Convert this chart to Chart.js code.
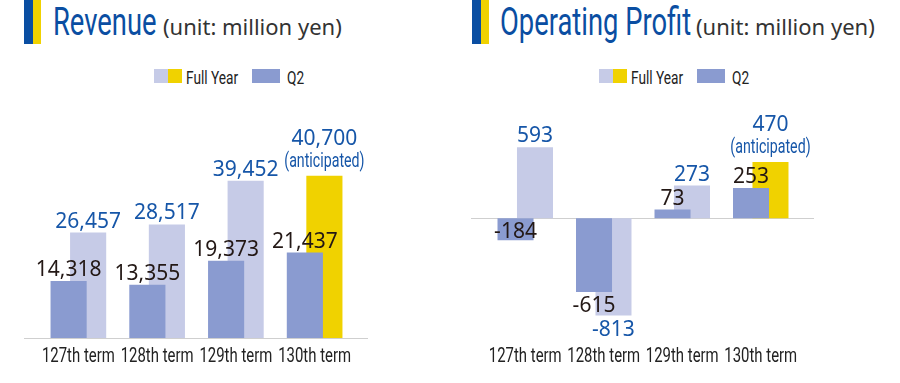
<!DOCTYPE html>
<html lang="en">
<head>
<meta charset="UTF-8" />
<title>Revenue / Operating Profit</title>
<script src="https://cdn.jsdelivr.net/npm/chart.js@4"></script>
<style>
  html, body { margin: 0; padding: 0; background: #fff; }
  body { width: 900px; height: 383px; position: relative; overflow: hidden; font-family: Roboto, sans-serif; }
  .mark { position: absolute; top: 0; width: 17px; height: 44px;
          background: linear-gradient(to right, #0a4ea2 0 9px, #f0d200 9px 17px); }
  /* no condensed face is installed, so squeeze Roboto */
  .narrow { position: absolute; white-space: nowrap; transform: scaleX(0.72); transform-origin: 0 0; }
  .title { top: 0; color: #0a4ea2; font-size: 38px; line-height: 44px; font-weight: 400; }
  .unit { position: absolute; top: 11px; white-space: nowrap; font-family: "Noto Sans", sans-serif;
          font-size: 22px; color: #333; }
  .sw { position: absolute; top: 69px; width: 28px; height: 14px; }
  .lt { top: 68px; font-size: 19px; line-height: 19px; color: #222; }
  canvas { position: absolute; top: 44px; }
</style>
</head>
<body>
  <div class="mark" style="left:24px"></div>
  <div class="narrow title" style="left:53px">Revenue</div>
  <div class="unit" style="left:163px">(unit: million yen)</div>
  <div class="mark" style="left:472px"></div>
  <div class="narrow title" style="left:500px">Operating Profit</div>
  <div class="unit" style="left:696px">(unit: million yen)</div>

  <div id="revenueLegend"></div>
  <div id="profitLegend"></div>

  <canvas id="revenueChart" width="450" height="339" style="left:0"></canvas>
  <canvas id="profitChart" width="450" height="339" style="left:450px"></canvas>

<script>
  const terms = ["127th term", "128th term", "129th term", "130th term"];
  const revenueQ2 = [14318, 13355, 19373, 21437];
  const revenueFullYear = [26457, 28517, 39452, 40700];
  const profitQ2 = [-184, -615, 73, 253];
  const profitFullYear = [593, -813, 273, 470];
  const anticipated = [false, false, false, true];
  const anticipatedNote = "(anticipated)";

  const Q2_COLOR = "#8a9bd0";
  const FULL_COLOR = "#c6cbe7";
  const FORECAST_COLOR = "#f0d200";
  const SQUEEZE = 0.71;

  function legend(id, left) {
    const el = document.getElementById(id);
    el.innerHTML =
      '<span class="sw" style="left:' + left + 'px;background:linear-gradient(to right,' +
        FULL_COLOR + ' 50%,' + FORECAST_COLOR + ' 50%)"></span>' +
      '<span class="narrow lt" style="left:' + (left + 32) + 'px">Full Year</span>' +
      '<span class="sw" style="left:' + (left + 98) + 'px;background:' + Q2_COLOR + '"></span>' +
      '<span class="narrow lt" style="left:' + (left + 133) + 'px">Q2</span>';
  }

  // squeezed canvas text
  function narrowText(ctx, text, x, y, size, color) {
    ctx.save();
    ctx.font = size + "px Roboto";
    ctx.fillStyle = color;
    ctx.textAlign = "center";
    ctx.textBaseline = "alphabetic";
    ctx.translate(x, y);
    ctx.scale(SQUEEZE, 1);
    ctx.fillText(text, 0, 0);
    ctx.restore();
  }

  const zeroLine = {
    id: "zeroLine",
    beforeDatasetsDraw(chart) {
      const { ctx, chartArea, scales } = chart;
      const y = Math.round(scales.y.getPixelForValue(0)) + 0.5;
      ctx.save();
      ctx.strokeStyle = "#cfcfcf";
      ctx.lineWidth = 1;
      ctx.beginPath();
      ctx.moveTo(chartArea.left - 15, y);
      ctx.lineTo(chartArea.right + 14, y);
      ctx.stroke();
      ctx.restore();
    }
  };

  const termLabels = {
    id: "termLabels",
    afterDraw(chart) {
      const x = chart.scales.x;
      chart.data.labels.forEach((lab, i) => {
        narrowText(chart.ctx, lab, x.getPixelForTick(i), chart.chartArea.bottom + 24, 21, "#222");
      });
    }
  };

  const valueLabels = {
    id: "valueLabels",
    afterDatasetsDraw(chart, args, opts) {
      const ctx = chart.ctx;
      const inside = opts.inside || [];
      chart.data.datasets.forEach((ds, di) => {
        chart.getDatasetMeta(di).data.forEach((bar, i) => {
          const v = ds.data[i];
          const text = v.toLocaleString("en-US");
          ctx.save();
          ctx.textAlign = "center";
          ctx.textBaseline = "alphabetic";
          ctx.fillStyle = ds.labelColor;
          ctx.font = '21px "Noto Sans"';
          if (v >= 0) {
            if (ds.notes && ds.notes[i]) {
              const noteY = bar.y - 9;
              ctx.fillText(text, bar.x, noteY - 22);
              narrowText(ctx, ds.notes[i], bar.x, noteY, 20, ds.labelColor);
            } else {
              ctx.fillText(text, bar.x, bar.y - 5);
            }
          } else {
            const isInside = inside.some(p => p[0] === di && p[1] === i);
            ctx.fillText(text, bar.x, (isInside ? bar.base : bar.y) + 20);
          }
          ctx.restore();
        });
      });
    }
  };

  function makeChart(id, q2, full, yMin, yMax, padLeft, padRight, inside) {
    new Chart(document.getElementById(id), {
      type: "bar",
      data: {
        labels: terms,
        datasets: [
          {
            label: "Q2",
            data: q2,
            backgroundColor: Q2_COLOR,
            labelColor: "#231815"
          },
          {
            label: "Full Year",
            data: full,
            backgroundColor: anticipated.map(a => a ? FORECAST_COLOR : FULL_COLOR),
            labelColor: "#1656a8",
            notes: anticipated.map(a => a ? anticipatedNote : "")
          }
        ]
      },
      options: {
        responsive: false,
        animation: false,
        events: [],
        layout: { padding: { top: 51, bottom: 45, left: padLeft, right: padRight } },
        datasets: { bar: { categoryPercentage: 0.496, barPercentage: 1.85, borderWidth: 0 } },
        scales: {
          x: { display: false },
          y: { display: false, min: yMin, max: yMax }
        },
        plugins: {
          legend: { display: false },
          tooltip: { enabled: false },
          valueLabels: { inside: inside }
        }
      },
      plugins: [zeroLine, valueLabels, termLabels]
    });
  }

  legend("revenueLegend", 154);
  legend("profitLegend", 599);
  makeChart("revenueChart", revenueQ2, revenueFullYear, 0, 61000, 39, 96, []);
  makeChart("profitChart", profitQ2, profitFullYear, -1000, 1030, 36, 100, [[0, 0]]);
</script>
</body>
</html>
